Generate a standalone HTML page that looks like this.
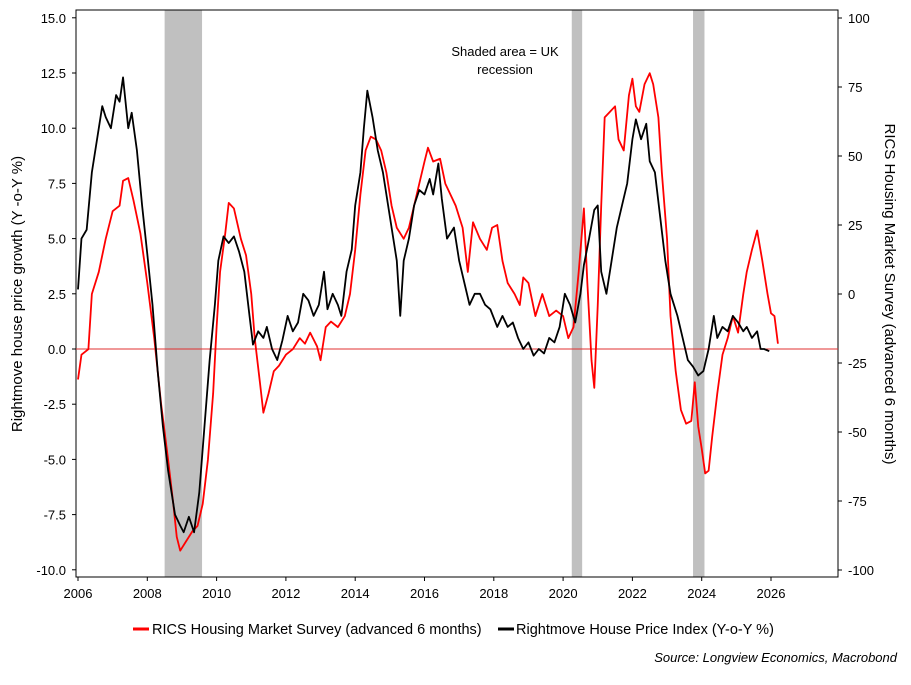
<!DOCTYPE html>
<html><head><meta charset="utf-8"><style>
body{margin:0;background:#fff;font-family:"Liberation Sans",sans-serif;}
svg text{font-family:"Liberation Sans",sans-serif;font-size:13px;fill:#000;}
</style></head><body>
<svg id="chart" width="911" height="680" xmlns="http://www.w3.org/2000/svg">
<g id="rec"></g>
<rect x="76" y="10" width="762" height="567" fill="none" stroke="#000" stroke-width="1"/>
<line x1="76" x2="838" y1="349" y2="349" stroke="#e03030" stroke-width="1"/>
<g id="axes"></g>
<g id="series"></g>
<text x="505" y="56" text-anchor="middle">Shaded area = UK</text>
<text x="505" y="74" text-anchor="middle">recession</text>
<text transform="translate(22,294) rotate(-90)" text-anchor="middle" style="font-size:15px">Rightmove house price growth (Y -o-Y %)</text>
<text transform="translate(885,294) rotate(90)" text-anchor="middle" style="font-size:15px">RICS Housing Market Survey (advanced 6 months)</text>
<g>
<line x1="133" x2="149" y1="629" y2="629" stroke="#ff0000" stroke-width="3"/>
<text x="152" y="634" style="font-size:14.5px">RICS Housing Market Survey (advanced 6 months)</text>
<line x1="498" x2="514" y1="629" y2="629" stroke="#000" stroke-width="3"/>
<text x="516" y="634" style="font-size:14.5px">Rightmove House Price Index (Y-o-Y %)</text>
</g>
<text x="897" y="662" text-anchor="end" font-style="italic">Source: Longview Economics, Macrobond</text>
</svg>
<script>
const recStart=[2008.5,2020.25,2023.75];
const recEnd=[2009.58,2020.55,2024.08];
const leftTicks=[15,12.5,10,7.5,5,2.5,0,-2.5,-5,-7.5,-10];
const rightTicks=[100,75,50,25,0,-25,-50,-75,-100];
const yearTicks=[2006,2008,2010,2012,2014,2016,2018,2020,2022,2024,2026];
const ricsX=[2006.0,2006.1,2006.3,2006.4,2006.6,2006.8,2007.0,2007.2,2007.3,2007.45,2007.6,2007.8,2008.0,2008.2,2008.4,2008.6,2008.75,2008.85,2008.95,2009.1,2009.3,2009.45,2009.6,2009.75,2009.9,2010.0,2010.1,2010.25,2010.35,2010.5,2010.7,2010.85,2011.0,2011.1,2011.25,2011.35,2011.5,2011.65,2011.8,2012.0,2012.2,2012.4,2012.55,2012.7,2012.9,2013.0,2013.15,2013.3,2013.5,2013.7,2013.85,2014.0,2014.15,2014.3,2014.45,2014.6,2014.75,2014.9,2015.05,2015.2,2015.4,2015.55,2015.7,2015.85,2016.0,2016.1,2016.25,2016.45,2016.6,2016.75,2016.9,2017.0,2017.1,2017.25,2017.4,2017.6,2017.8,2017.95,2018.1,2018.25,2018.4,2018.6,2018.75,2018.85,2019.0,2019.2,2019.4,2019.6,2019.8,2020.0,2020.15,2020.3,2020.45,2020.6,2020.7,2020.82,2020.9,2021.0,2021.1,2021.2,2021.35,2021.5,2021.6,2021.75,2021.9,2022.0,2022.1,2022.2,2022.35,2022.5,2022.6,2022.75,2022.85,2023.0,2023.1,2023.25,2023.4,2023.55,2023.7,2023.8,2023.9,2024.0,2024.1,2024.2,2024.3,2024.45,2024.6,2024.75,2024.9,2025.05,2025.2,2025.3,2025.45,2025.6,2025.75,2025.9,2026.0,2026.1,2026.2];
const ricsV=[-31,-22,-20,0,8,20,30,32,41,42,34,22,4,-16,-40,-60,-76,-88,-93,-90,-86,-84,-76,-60,-36,-12,8,22,33,31,20,14,0,-16,-32,-43,-36,-28,-26,-22,-20,-16,-18,-14,-19,-24,-12,-10,-12,-8,0,16,36,52,57,56,52,44,32,24,20,24,32,40,48,53,48,49,40,36,32,28,24,8,26,20,16,24,25,12,4,0,-4,6,4,-8,0,-8,-6,-8,-16,-12,8,31,4,-24,-34,-4,32,64,66,68,56,52,72,78,68,66,76,80,76,64,44,20,-8,-28,-42,-47,-46,-32,-48,-56,-65,-64,-52,-36,-22,-16,-8,-14,0,8,16,23,12,0,-7,-8,-18];
const rmX=[2006.0,2006.1,2006.25,2006.4,2006.55,2006.7,2006.8,2006.95,2007.1,2007.2,2007.3,2007.45,2007.55,2007.7,2007.85,2008.0,2008.15,2008.3,2008.45,2008.6,2008.8,2008.95,2009.05,2009.2,2009.35,2009.5,2009.65,2009.8,2009.95,2010.05,2010.2,2010.35,2010.5,2010.65,2010.8,2010.95,2011.05,2011.2,2011.35,2011.45,2011.6,2011.75,2011.9,2012.05,2012.2,2012.35,2012.5,2012.65,2012.8,2012.95,2013.1,2013.2,2013.35,2013.5,2013.6,2013.75,2013.9,2014.0,2014.15,2014.25,2014.35,2014.5,2014.65,2014.8,2014.95,2015.1,2015.2,2015.3,2015.4,2015.55,2015.7,2015.85,2016.0,2016.15,2016.25,2016.4,2016.5,2016.65,2016.85,2017.0,2017.15,2017.3,2017.45,2017.6,2017.75,2017.9,2018.1,2018.25,2018.4,2018.55,2018.7,2018.85,2019.0,2019.15,2019.3,2019.45,2019.6,2019.75,2019.9,2020.05,2020.2,2020.35,2020.5,2020.6,2020.75,2020.9,2021.0,2021.1,2021.25,2021.4,2021.55,2021.7,2021.85,2022.0,2022.1,2022.25,2022.4,2022.5,2022.65,2022.8,2022.95,2023.1,2023.3,2023.45,2023.6,2023.75,2023.9,2024.05,2024.2,2024.35,2024.45,2024.6,2024.75,2024.9,2025.05,2025.2,2025.3,2025.45,2025.6,2025.7,2025.8,2025.95];
const rmV=[2.7,5.0,5.4,8.0,9.5,11.0,10.5,10.0,11.5,11.2,12.3,10.0,10.7,9.0,6.5,4.3,2.0,-1.0,-3.5,-5.5,-7.5,-8.0,-8.3,-7.6,-8.3,-6.5,-3.5,-0.5,2.0,4.0,5.1,4.8,5.1,4.4,3.5,1.5,0.2,0.8,0.5,1.0,0.0,-0.5,0.4,1.5,0.8,1.2,2.5,2.2,1.5,2.0,3.5,1.8,2.5,2.0,1.5,3.5,4.5,6.5,8.0,10.0,11.7,10.5,9.0,8.0,6.5,5.0,4.0,1.5,4.0,5.0,6.5,7.2,7.0,7.7,7.0,8.4,6.8,5.0,5.5,4.0,3.0,2.0,2.5,2.5,2.0,1.8,1.0,1.5,1.0,1.2,0.5,0.0,0.3,-0.3,0.0,-0.2,0.5,0.3,1.0,2.5,2.0,1.2,2.5,3.8,5.0,6.3,6.5,3.5,2.5,4.0,5.5,6.5,7.5,9.5,10.4,9.5,10.2,8.5,8.0,6.0,4.0,2.5,1.5,0.5,-0.5,-0.8,-1.2,-1.0,0.0,1.5,0.5,1.0,0.8,1.5,1.2,0.8,1.0,0.5,0.8,0.0,0.0,-0.1];
const NS="http://www.w3.org/2000/svg";
const xS=y=>78+(y-2006)*34.65;
const yL=v=>349-v*22.08;
const yR=v=>294-v*2.76;
function mk(tag,attrs,parent){const e=document.createElementNS(NS,tag);for(const k in attrs)e.setAttribute(k,attrs[k]);parent.appendChild(e);return e;}
const rec=document.getElementById('rec'),axes=document.getElementById('axes'),ser=document.getElementById('series');
recStart.forEach((s,i)=>{const r=mk('rect',{x:xS(s),y:10,width:xS(recEnd[i])-xS(s),height:567,fill:'#c0c0c0'},rec);

});
leftTicks.forEach(v=>{mk('line',{x1:72,x2:76,y1:yL(v),y2:yL(v),stroke:'#000'},axes);
const t=mk('text',{x:66,y:yL(v)+5,'text-anchor':'end'},axes);t.textContent=v.toFixed(1);

});
rightTicks.forEach(v=>{mk('line',{x1:838,x2:842,y1:yR(v),y2:yR(v),stroke:'#000'},axes);
const t=mk('text',{x:848,y:yR(v)+5},axes);t.textContent=v;

});
yearTicks.forEach(v=>{mk('line',{x1:xS(v),x2:xS(v),y1:577,y2:581,stroke:'#000'},axes);
const t=mk('text',{x:xS(v),y:598,'text-anchor':'middle'},axes);t.textContent=v;

});
const pr=mk('polyline',{points:ricsX.map((x,i)=>xS(x)+','+yR(ricsV[i])).join(' '),fill:'none',stroke:'#ff0000','stroke-width':1.8,'stroke-linejoin':'round'},ser);


const pb=mk('polyline',{points:rmX.map((x,i)=>xS(x)+','+yL(rmV[i])).join(' '),fill:'none',stroke:'#000','stroke-width':1.8,'stroke-linejoin':'round'},ser);


</script>
</body></html>
